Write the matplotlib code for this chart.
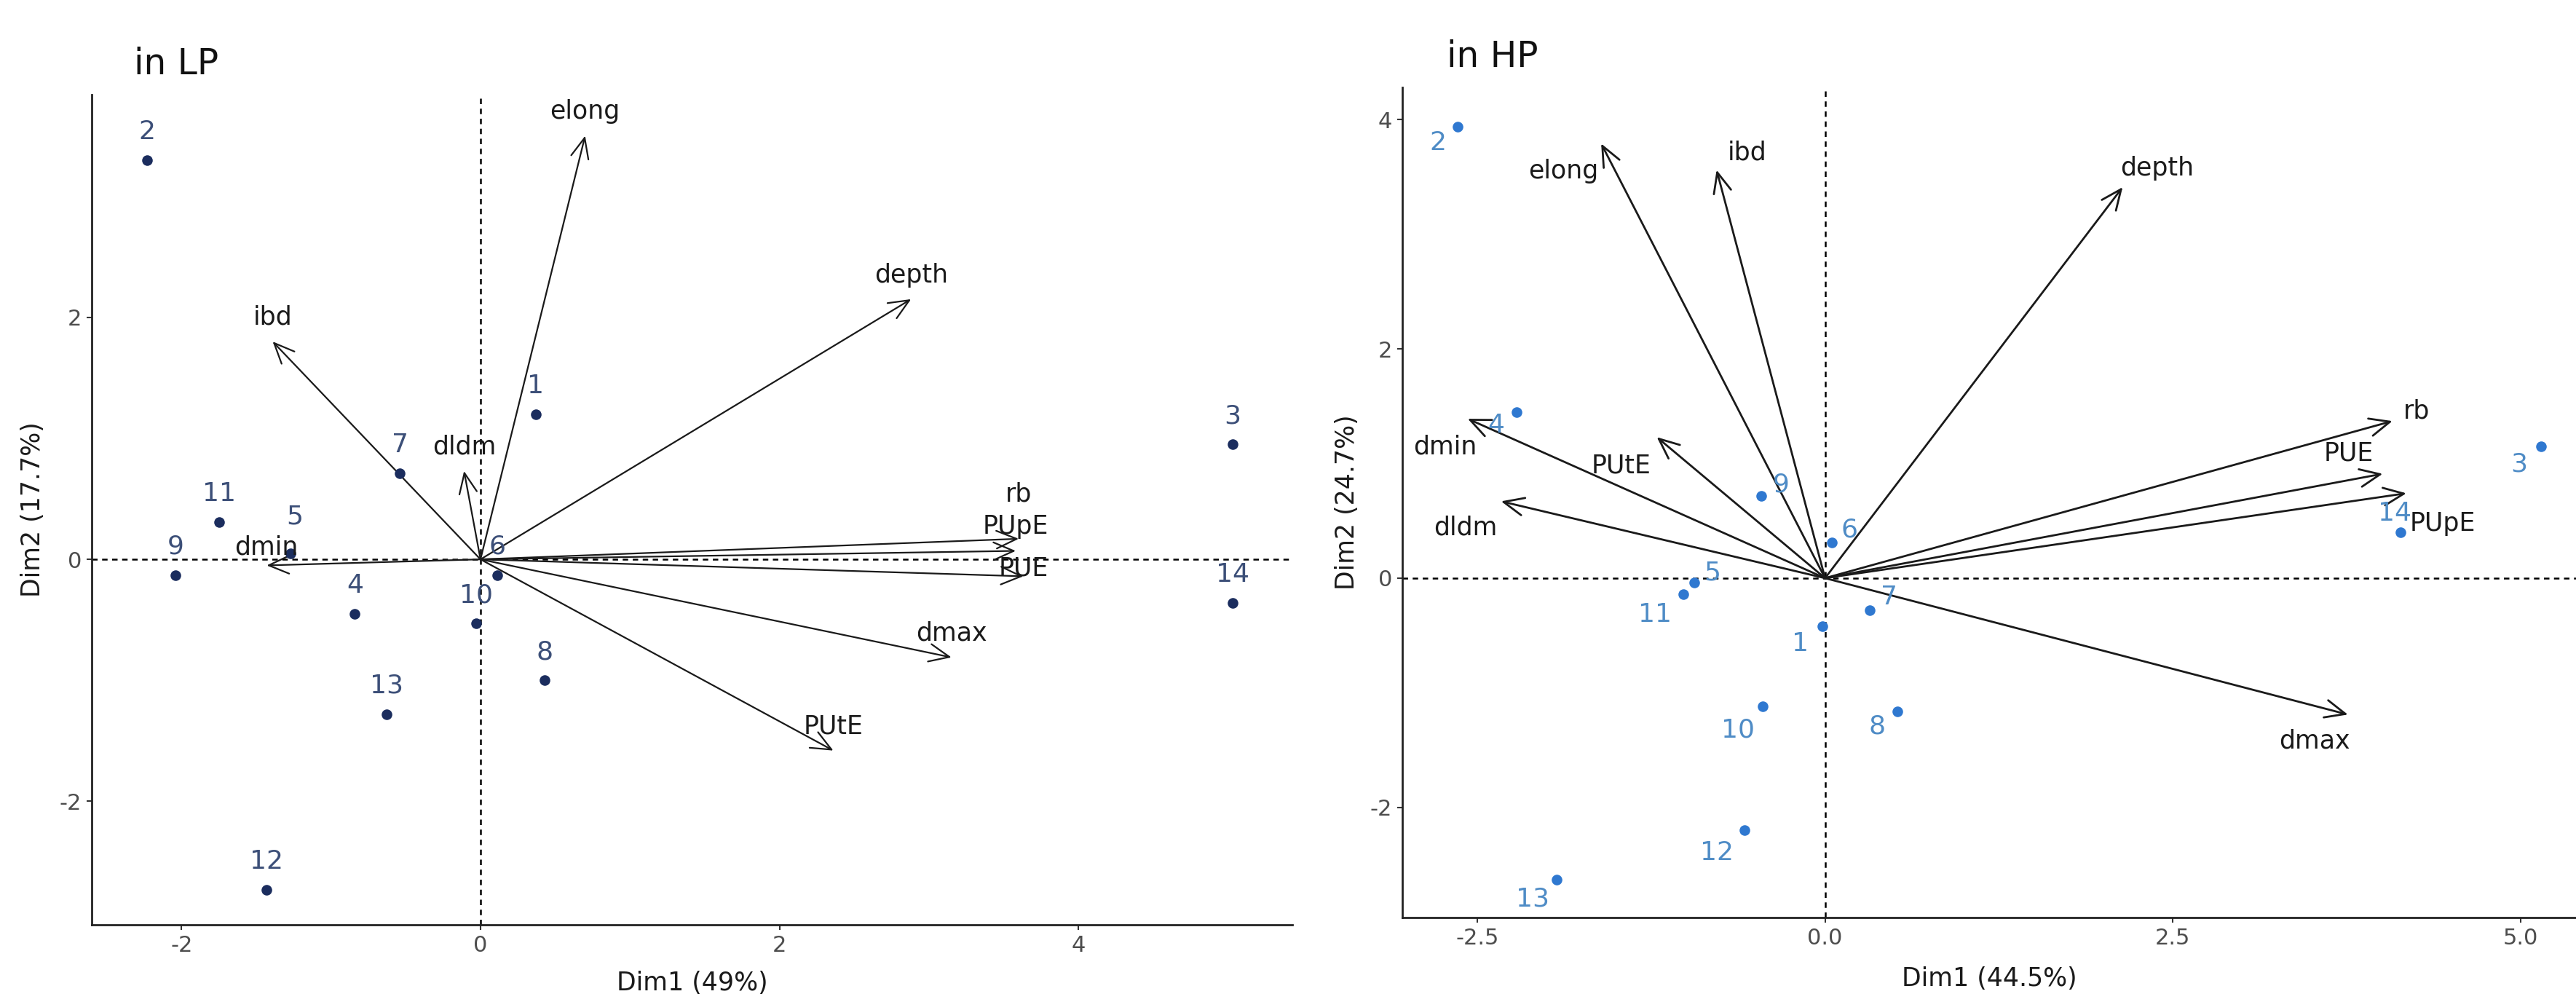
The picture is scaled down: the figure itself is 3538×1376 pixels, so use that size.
import matplotlib
matplotlib.use('Agg')
import matplotlib.pyplot as plt
from matplotlib.patches import FancyArrowPatch

plt.rcParams['font.family'] = ['DejaVu Sans']
plt.rcParams['axes.unicode_minus'] = False

# ---------------- data: low P (LP) ----------------
lp_obs_labels = ['1', '2', '3', '4', '5', '6', '7', '8', '9', '10', '11', '12', '13', '14']
lp_obs_x = [0.37, -2.23, 5.03, -0.84, -1.27, 0.11, -0.54, 0.43, -2.04, -0.03, -1.75, -1.43, -0.63, 5.03]
lp_obs_y = [1.20, 3.30, 0.95, -0.45, 0.05, -0.13, 0.71, -1.00, -0.13, -0.53, 0.31, -2.73, -1.28, -0.36]
lp_var_labels = ['elong', 'depth', 'ibd', 'dldm', 'dmin', 'rb', 'PUpE', 'PUE', 'dmax', 'PUtE']
lp_var_x = [0.70, 2.88, -1.39, -0.11, -1.43, 3.60, 3.58, 3.63, 3.15, 2.36]
lp_var_y = [3.50, 2.15, 1.80, 0.73, -0.05, 0.17, 0.07, -0.14, -0.81, -1.58]
lp_xticks = [-2, 0, 2, 4]
lp_xticklabels = ['-2', '0', '2', '4']
lp_yticks = [-2, 0, 2]
lp_yticklabels = ['-2', '0', '2']
lp_xlabel = 'Dim1 (49%)'
lp_ylabel = 'Dim2 (17.7%)'
lp_title = 'in LP'

# ---------------- data: high P (HP) ----------------
hp_obs_labels = ['1', '2', '3', '4', '5', '6', '7', '8', '9', '10', '11', '12', '13', '14']
hp_obs_x = [-0.02, -2.64, 5.15, -2.22, -0.94, 0.05, 0.32, 0.52, -0.46, -0.45, -1.02, -0.58, -1.93, 4.14]
hp_obs_y = [-0.42, 3.94, 1.15, 1.45, -0.04, 0.31, -0.28, -1.16, 0.72, -1.12, -0.14, -2.20, -2.63, 0.40]
hp_var_labels = ['elong', 'ibd', 'depth', 'rb', 'PUE', 'PUpE', 'dmax', 'dmin', 'PUtE', 'dldm']
hp_var_x = [-1.61, -0.78, 2.14, 4.08, 4.01, 4.18, 3.76, -2.57, -1.21, -2.33]
hp_var_y = [3.79, 3.56, 3.41, 1.37, 0.91, 0.74, -1.19, 1.39, 1.23, 0.67]
hp_xticks = [-2.5, 0.0, 2.5, 5.0]
hp_xticklabels = ['-2.5', '0.0', '2.5', '5.0']
hp_yticks = [-2, 0, 2, 4]
hp_yticklabels = ['-2', '0', '2', '4']
hp_xlabel = 'Dim1 (44.5%)'
hp_ylabel = 'Dim2 (24.7%)'
hp_title = 'in HP'

# ---------------- styles (label offsets in points) ----------------
lp_obs_off = [(0, 28), (0, 28), (0, 28), (0, 28), (4, 36), (0, 28), (0, 28),
              (0, 28), (0, 28), (0, 28), (0, 28), (0, 28), (0, 28), (0, 28)]
lp_var_off = [(0, 24), (0, 24), (0, 24), (0, 24), (0, 18), (0, 44), (0, 24), (0, 8), (0, 24), (0, 24)]
hp_obs_off = [(-22, -17), (-20, -16), (-22, -18), (-20, -13), (18, 10), (17, 13), (19, 13),
              (-20, -15), (20, 11), (-24, -23), (-28, -20), (-27, -22), (-24, -19), (-6, 19)]
hp_var_off = [(-37, -27), (30, 17), (34, 19), (24, 10), (-34, 20), (36, -30), (-33, -26),
              (-22, -28), (-35, -28), (-35, -26)]

W, H = 3538, 1376
fig = plt.figure(figsize=(W / 100, H / 100), dpi=100)


def px_axes(l, t, r, b):
    return [l / W, 1 - b / H, (r - l) / W, (b - t) / H]


ax1 = fig.add_axes(px_axes(126, 130, 1775, 1270))
ax2 = fig.add_axes(px_axes(1926, 120, 3538, 1260))


def draw(ax, obs_lab, ox, oy, var_lab, vx, vy, xlim, ylim, xt, xtl, yt, ytl,
         xlabel, ylabel, pcol, lcol, obs_off, var_off, arrow_lw, ylab_x, xlab_y):
    ax.set_xlim(*xlim)
    ax.set_ylim(*ylim)
    ax.axhline(0, color='black', lw=1.8, ls=(0, (3, 2.5)), zorder=1)
    ax.axvline(0, color='black', lw=1.8, ls=(0, (3, 2.5)), zorder=1)
    for lab, x, y, off in zip(var_lab, vx, vy, var_off):
        arr = FancyArrowPatch((0, 0), (x, y),
                              arrowstyle='->,head_length=0.8,head_width=0.35',
                              mutation_scale=25, lw=arrow_lw, color='#1a1a1a',
                              shrinkA=0, shrinkB=0, zorder=2)
        ax.add_patch(arr)
        ax.annotate(lab, (x, y), xytext=off, textcoords='offset points',
                    ha='center', va='center', fontsize=25, color='#1a1a1a', zorder=4)
    ax.scatter(ox, oy, s=110, color=pcol, zorder=3, linewidths=0)
    for lab, x, y, off in zip(obs_lab, ox, oy, obs_off):
        ax.annotate(lab, (x, y), xytext=off, textcoords='offset points',
                    ha='center', va='center', fontsize=26, color=lcol, zorder=4)
    for s in ['top', 'right']:
        ax.spines[s].set_visible(False)
    for s in ['left', 'bottom']:
        ax.spines[s].set_linewidth(2)
        ax.spines[s].set_color('#222222')
    ax.set_xticks(xt)
    ax.set_xticklabels(xtl)
    ax.set_yticks(yt)
    ax.set_yticklabels(ytl)
    ax.tick_params(length=5, width=1.5, color='#333333', labelcolor='#4d4d4d',
                   labelsize=22, pad=5)
    ax.set_xlabel(xlabel, fontsize=25, color='#1a1a1a')
    ax.set_ylabel(ylabel, fontsize=25, color='#1a1a1a')
    ax.xaxis.set_label_coords(0.5, xlab_y)
    ax.xaxis.label.set_va('center')
    ax.yaxis.set_label_coords(ylab_x, 0.5)
    ax.yaxis.label.set_va('center')


draw(ax1, lp_obs_labels, lp_obs_x, lp_obs_y, lp_var_labels, lp_var_x, lp_var_y,
     (-2.60, 5.43), (-3.02, 3.84), lp_xticks, lp_xticklabels, lp_yticks, lp_yticklabels,
     lp_xlabel, lp_ylabel, '#1b2d5e', '#3c4f78', lp_obs_off, lp_var_off, 1.6, -0.049, -0.070)
draw(ax2, hp_obs_labels, hp_obs_x, hp_obs_y, hp_var_labels, hp_var_x, hp_var_y,
     (-3.04, 5.40), (-2.96, 4.28), hp_xticks, hp_xticklabels, hp_yticks, hp_yticklabels,
     hp_xlabel, hp_ylabel, '#2f78d0', '#4f8cc6', hp_obs_off, hp_var_off, 2.0, -0.047, -0.074)

fig.text(184 / W, 1 - 88 / H, lp_title, fontsize=35, ha='left', va='center', color='#111111')
fig.text(1987 / W, 1 - 78 / H, hp_title, fontsize=35, ha='left', va='center', color='#111111')

fig.savefig('out.png', dpi=100, facecolor='white')
